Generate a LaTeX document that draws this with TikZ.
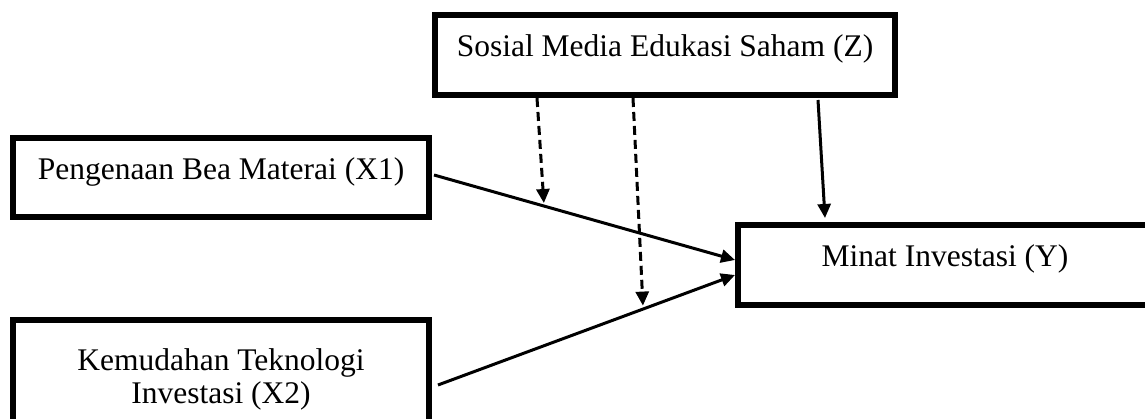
\documentclass[tikz,border=0pt]{standalone}
\usepackage{fontspec}
\setmainfont{Liberation Serif}
\usetikzlibrary{arrows.meta,positioning}

\begin{document}
\begin{tikzpicture}[x=1pt,y=1pt,
    font=\fontsize{31.5}{31}\selectfont,
    var/.style={rectangle,
          draw=black,
          line width=6pt,
          text height=22pt,
          text depth=18pt,
          inner sep=0pt},
    arr/.style={line width=3pt,
          -{Triangle[length=14pt,width=13pt]}},
    dsh/.style={arr, dash pattern=on 9pt off 5pt}]

   \useasboundingbox (0,0) rectangle (1145,419);
   \clip (0,0) rectangle (1145,419);

   \node[var,
          minimum width=460pt,
          minimum height=80pt] (z) at (665,364) {Sosial Media Edukasi Saham (Z)};
   \node[var,
          minimum width=416pt,
          minimum height=79pt] (x1) at (221,241.5) {Pengenaan Bea Materai (X1)};
   \node[var,
          below=97pt of x1,
          text height=,
          text depth=,
          align=center,
          minimum width=416pt,
          minimum height=118pt] (x2) {Kemudahan Teknologi\\[2pt]Investasi (X2)};
   \node[var,
          minimum width=414pt,
          minimum height=80pt] (y) at (945,154) {Minat Investasi (Y)};
    % Connect the variables with arrows
    \draw[arr] ([shift={(2,2.5)}]x1.east) -- coordinate[pos=0.365] (m1) ([yshift=5pt]y.west);
    \draw[arr] ([shift={(6,-6)}]x2.east) -- coordinate[pos=0.69] (m2) ([yshift=-10pt]y.west);
    \draw[arr] ([shift={(153,-2)}]z.south) -- ([shift={(-120,4)}]y.north);
    \draw[dsh] ([xshift=-128pt]z.south) -- ([yshift=3pt]m1);
    \draw[dsh] ([xshift=-32pt]z.south) -- ([yshift=3.5pt]m2);
\end{tikzpicture}
\end{document}
